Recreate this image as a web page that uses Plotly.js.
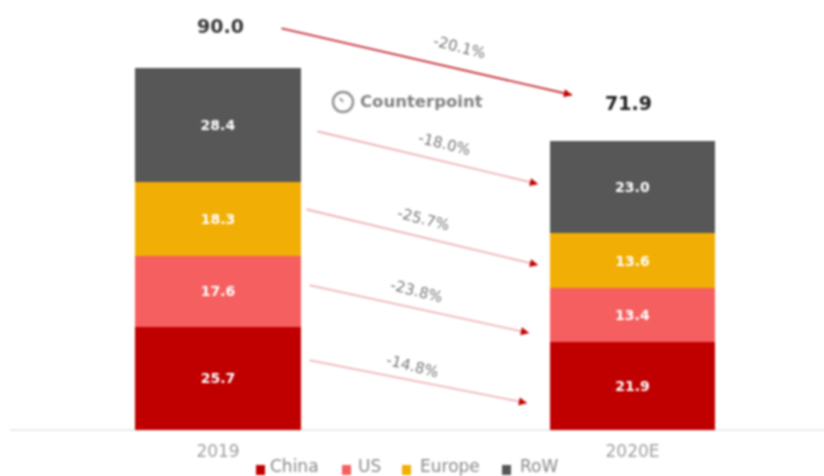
<!DOCTYPE html>
<html><head><meta charset="utf-8">
<script src="https://cdn.plot.ly/plotly-3.0.1.min.js"></script>
<style>html,body{margin:0;padding:0;background:#fff;overflow:hidden}#c{width:824px;height:476px;filter:blur(1px)}</style>
</head><body><div id="c"></div>
<script>
const categories = ["2019", "2020E"];
const china = [25.7, 21.9];
const us = [17.6, 13.4];
const europe = [18.3, 13.6];
const row = [28.4, 23.0];
const totals = ["90.0", "71.9"];
const growthLabels = ["-20.1%", "-18.0%", "-25.7%", "-23.8%", "-14.8%"];
const seriesNames = ["China", "US", "Europe", "RoW"];
const seriesColors = ["#c00000", "#f55f5f", "#f1ae04", "#575757"];

const W = 824, H = 476, L = 10, B = 46, PH = H - B, PW = W - L;
const px = x => (x - L) / PW;
const py = y => (PH - y) / PH;

function bar(name, y, color) {
  return {type: "bar", name, x: categories, y, width: 0.4,
    marker: {color, line: {width: 0}},
    text: y.map(v => v.toFixed(1)), textposition: "inside", insidetextanchor: "middle",
    textangle: 0, constraintext: "none",
    textfont: {family: "DejaVu Sans", size: 14, color: "#ffffff", weight: 700},
    hoverinfo: "name+y"};
}
const traces = [china, us, europe, row].map((v, i) => bar(seriesNames[i], v, seriesColors[i]));

const arrows = [
  [280, 28, 572, 95, "#c8303a", 1.8],
  [316, 131, 538, 184, "#eba8ae", 1.6],
  [305, 209, 538, 265, "#eba8ae", 1.6],
  [308, 285, 529, 333, "#eba8ae", 1.6],
  [308, 360, 527, 403, "#eba8ae", 1.6]
];
const labelPos = [[459, 47], [445, 144], [423, 219], [416, 291], [412, 366]];
const ann = [];
arrows.forEach(a => {
  ann.push({xref: "paper", yref: "paper", x: px(a[2]), y: py(a[3]), axref: "pixel", ayref: "pixel",
    ax: a[0] - a[2], ay: a[1] - a[3], text: "", showarrow: true, arrowhead: 0, arrowwidth: a[5], arrowcolor: a[4]});
  const dx = a[0] - a[2], dy = a[1] - a[3], n = Math.hypot(dx, dy);
  ann.push({xref: "paper", yref: "paper", x: px(a[2]), y: py(a[3]), axref: "pixel", ayref: "pixel",
    ax: dx / n * 8, ay: dy / n * 8, text: "", showarrow: true, arrowhead: 2, arrowsize: 0.9, arrowwidth: 1.8, arrowcolor: "#c00000"});
});
const center = {xanchor: "center", yanchor: "middle", showarrow: false, xref: "paper", yref: "paper"};
growthLabels.forEach((t, i) => ann.push({...center, x: px(labelPos[i][0]), y: py(labelPos[i][1]),
  text: t, textangle: 14, font: {family: "DejaVu Sans", size: 15, color: "#777777"}}));
ann.push({...center, x: px(220), y: py(26), text: totals[0],
  font: {family: "DejaVu Sans", size: 19, color: "#3a3a3a", weight: 700}});
ann.push({...center, x: px(628), y: py(103), text: totals[1],
  font: {family: "DejaVu Sans", size: 19, color: "#222222", weight: 700}});
ann.push({...center, xanchor: "left", x: px(358), y: py(102), text: "Counterpoint",
  font: {family: "DejaVu Sans", size: 16.5, color: "#808080", weight: 700}});

const legendTextX = [268, 356, 418, 518];
const legendSwatchX = [256, 342, 402, 502];
const legendShapes = [];
seriesNames.forEach((n, i) => {
  ann.push({...center, xanchor: "left", x: px(legendTextX[i]), y: py(466), text: n,
    font: {family: "DejaVu Sans", size: 17, color: "#8a8a8a"}});
  legendShapes.push({type: "rect", xref: "paper", yref: "paper", x0: px(legendSwatchX[i]), x1: px(legendSwatchX[i] + 9),
    y0: py(475), y1: py(465), fillcolor: seriesColors[i], line: {width: 0}});
});

const layout = {
  width: W, height: H, paper_bgcolor: "#fff", plot_bgcolor: "#fff",
  margin: {l: L, r: 0, t: 0, b: B, pad: 0, autoexpand: false},
  barmode: "stack", showlegend: false,
  xaxis: {type: "category", range: [-0.5018, 1.462], showgrid: false, zeroline: false, showline: false, ticks: "",
    tickfont: {family: "DejaVu Sans", size: 17, color: "#a0a0a0"}, ticklabelstandoff: 9},
  yaxis: {range: [0, 107], visible: false, showgrid: false, zeroline: false},
  annotations: ann,
  shapes: [
    {type: "line", xref: "paper", yref: "paper", x0: 0, x1: 1, y0: 0, y1: 0, line: {color: "#eeeeee", width: 2.5}, layer: "below"},
    {type: "circle", xref: "paper", yref: "paper", x0: px(333), x1: px(353), y0: py(112), y1: py(92), line: {color: "#909090", width: 2.4}},
    {type: "line", xref: "paper", yref: "paper", x0: px(343), x1: px(340), y0: py(102), y1: py(98), line: {color: "#909090", width: 2}}
  ].concat(legendShapes)
};
Plotly.newPlot("c", traces, layout, {displayModeBar: false, staticPlot: true});
</script></body></html>
